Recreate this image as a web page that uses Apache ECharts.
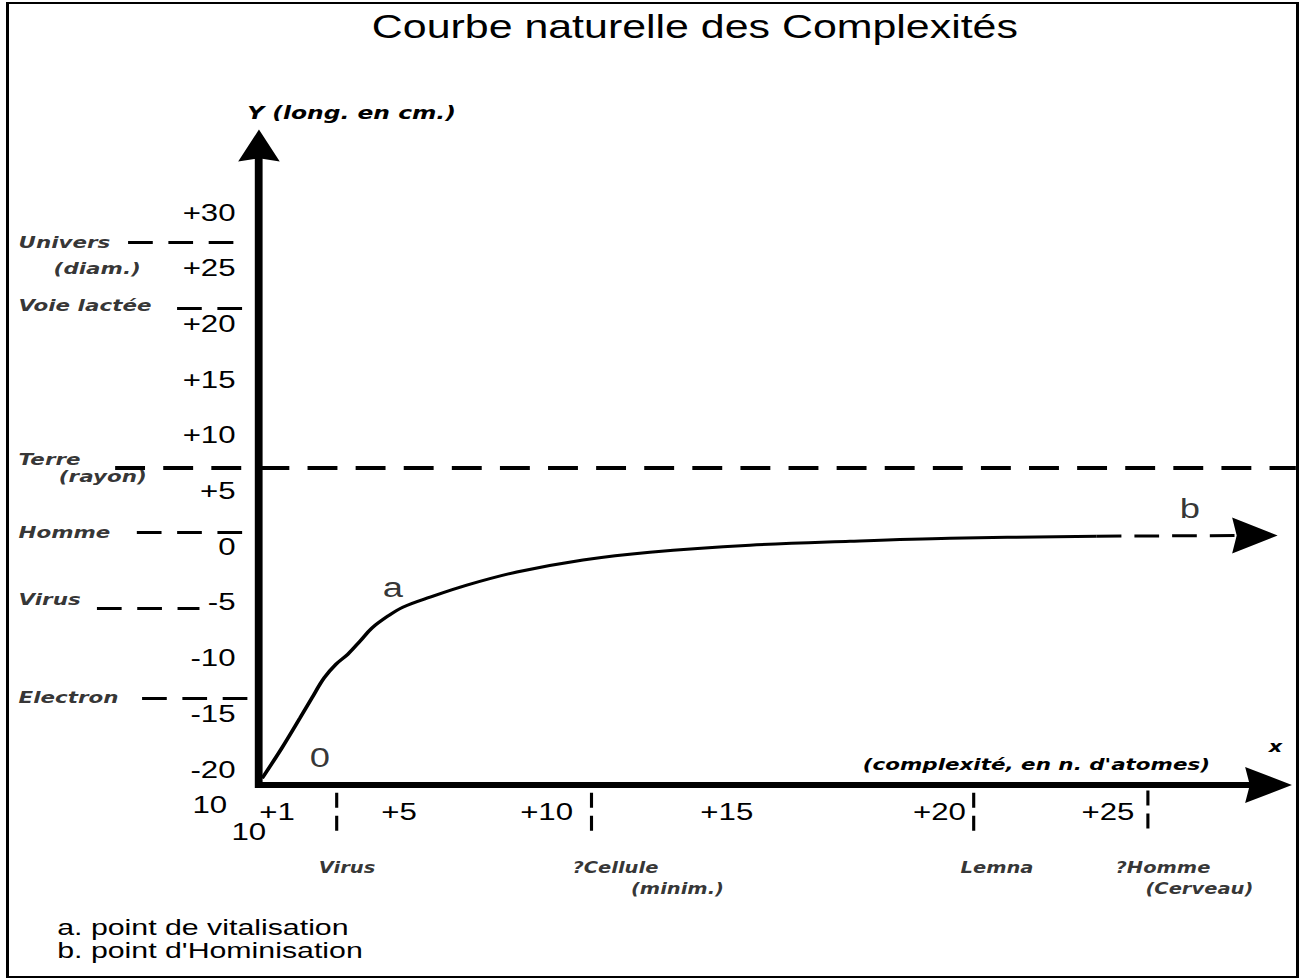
<!DOCTYPE html>
<html>
<head>
<meta charset="utf-8">
<script src="https://cdn.jsdelivr.net/npm/echarts@6/dist/echarts.min.js"></script>
<style>
html, body { margin: 0; padding: 0; background: #fff; overflow: hidden; }
#frame { position: absolute; left: 6px; top: 2px; width: 1287px; height: 972px; border-style: solid; border-color: #000; border-width: 2px 3px; z-index: 10; pointer-events: none; }
#chart { position: absolute; left: 0; top: 0; width: 1005px; height: 980px; transform: scaleX(1.3); transform-origin: 0 0; }
</style>
</head>
<body>
<div id="chart"></div>
<div id="frame"></div>
<script>
// ---------------- data ----------------
const titleText = 'Courbe naturelle des Complexités';
const yAxisName = 'Y (long. en cm.)';
const xAxisName = "(complexité, en n. d'atomes)";
const xAxisLetter = 'x';
const yTicks = [-20, -15, -10, -5, 0, 5, 10, 15, 20, 25, 30];
const xTicks = [1, 5, 10, 15, 20, 25];

// lengths (log10 of cm) marked on the Y axis
const lengthNames  = ['Univers', 'Voie lactée', 'Terre', 'Homme', 'Virus', 'Electron'];
const lengthNotes  = ['(diam.)', '', '(rayon)', '', '', ''];
const lengthValues = [27.3, 21.4, 7.1, 1.3, -5.5, -13.6];
const lengthFrom   = [-2.74, -1.34, -3.11, -2.49, -3.63, -2.34];
const lengthTo     = [0.37, 0.6, 30.63, 0.66, -0.7, 0.74];

// complexities (log10 of number of atoms) marked on the X axis
const complexNames  = ['Virus', '?Cellule', 'Lemna', '?Homme'];
const complexNotes  = ['', '(minim.)', '', '(Cerveau)'];
const complexValues = [3.23, 10.49, 21.4, 26.4];
const complexTop    = [-22.1, -22.1, -22.1, -21.9];
const complexBottom = [-26.2, -26.2, -26.2, -25.7];

// the curve of complexity
const curveX = [1.09, 1.65, 2.17, 2.51, 2.86, 3.2, 3.54, 3.89, 4.23, 4.69, 5.11, 5.89, 6.94, 8.37, 10.26, 12.17, 15.03, 17.89, 20.74, 24.94];
const curveY = [-20.8, -18.1, -15.4, -13.6, -11.8, -10.56, -9.66, -8.48, -7.31, -6.23, -5.44, -4.54, -3.46, -2.28, -1.2, -0.5, 0.13, 0.48, 0.75, 0.93];
const tailX = [24.94, 29.46];
const tailY = [0.93, 1.0];

// named points on the curve
const pointNames = ['0', 'a', 'b'];
const pointX = [2.74, 4.83, 27.6];
const pointY = [-18.9, -3.64, 3.45];

const footnotes = ['a. point de vitalisation', "b. point d'Hominisation"];
const baseLabels = ['10', '10'];

// ---------------- layout / style ----------------
const BLACK = '#000';
const SANS = 'Liberation Sans, Arial, sans-serif';
const GOTH = 'DejaVu Sans, sans-serif';
const ARROW = 'path://M50,0L100,100L50,90L0,100Z';
const NAME_X = -5.89;     // left column of the length names
const XNAME_Y = -28.8;    // row of the complexity names
const xTickNudge = [14, 0, -21, -17, 12, 7];   // hand-lettered tick label shifts (px)

const chart = echarts.init(document.getElementById('chart'), null, { renderer: 'svg' });

const series = [];

// main curve
series.push({
  type: 'line', data: curveX.map((x, i) => [x, curveY[i]]), smooth: 0.35,
  symbol: 'none', clip: false, silent: true,
  lineStyle: { color: BLACK, width: 3 }, z: 5
});
// dashed continuation with arrow
series.push({
  type: 'line', clip: false, silent: true, showSymbol: true,
  data: [
    { value: [tailX[0], tailY[0]], symbol: 'none' },
    { value: [tailX[1], tailY[1]], symbol: ARROW, symbolSize: [36, 35], symbolRotate: -90 }
  ],
  itemStyle: { color: BLACK, borderWidth: 0 },
  lineStyle: { color: BLACK, width: 3, type: [19, 10] }, z: 5
});

// horizontal dashed reference lines
lengthNames.forEach((n, i) => {
  const long = lengthTo[i] > 5;
  series.push({
    type: 'lines', coordinateSystem: 'cartesian2d', clip: false, silent: true, symbol: 'none',
    data: [{ coords: [[lengthFrom[i], lengthValues[i]], [lengthTo[i], lengthValues[i]]] }],
    lineStyle: { color: BLACK, opacity: 1, curveness: 0, width: long ? 4 : 3, type: long ? [23, 14] : [19, 12] }
  });
});

// vertical dashed reference ticks below the X axis
complexNames.forEach((n, i) => {
  series.push({
    type: 'lines', coordinateSystem: 'cartesian2d', clip: false, silent: true, symbol: 'none',
    data: [{ coords: [[complexValues[i], complexTop[i]], [complexValues[i], complexBottom[i]]] }],
    lineStyle: { color: BLACK, opacity: 1, curveness: 0, width: 2.4, type: [15, 8] }
  });
});

const nameStyle = (size) => ({ fontFamily: GOTH, fontWeight: 'bold', fontStyle: 'italic', fontSize: size, color: BLACK });

// length names
const lengthDy = [13, -3, 0, 0, -8, -1];
const lengthLH = [26, 18, 17, 18, 18, 18];
const lengthIndent = [27, 0, 31, 0, 0, 0];
series.push({
  type: 'scatter', clip: false, silent: true, symbolSize: 1,
  itemStyle: { color: 'rgba(0,0,0,0)' },
  data: lengthNames.map((n, i) => ({
    value: [NAME_X, lengthValues[i]],
    label: {
      show: true, position: 'right', distance: 0, offset: [0, lengthDy[i]],
      formatter: lengthNotes[i] ? '{n|' + n + '}\n{d|' + lengthNotes[i] + '}' : '{n|' + n + '}',
      rich: {
        n: Object.assign(nameStyle(16.5), { lineHeight: lengthLH[i] }),
        d: Object.assign(nameStyle(16.5), { lineHeight: lengthLH[i], padding: [0, 0, 0, lengthIndent[i]] })
      }
    }
  }))
});

// complexity names
const complexLeft = [2.69, 9.94, 21.03, 25.46];
const complexIndent = [0, 45, 0, 23];
series.push({
  type: 'scatter', clip: false, silent: true, symbolSize: 1,
  itemStyle: { color: 'rgba(0,0,0,0)' },
  data: complexNames.map((n, i) => ({
    value: [complexLeft[i], XNAME_Y],
    label: {
      show: true, position: 'right', distance: 0, offset: [0, complexNotes[i] ? 10.5 : 0],
      formatter: complexNotes[i] ? '{n|' + n + '}\n{d|' + complexNotes[i] + '}' : '{n|' + n + '}',
      rich: {
        n: Object.assign(nameStyle(15), { lineHeight: 21 }),
        d: Object.assign(nameStyle(15), { lineHeight: 21, padding: [0, 0, 0, complexIndent[i]] })
      }
    }
  }))
});

// point letters
series.push({
  type: 'scatter', clip: false, silent: true, symbolSize: 1,
  itemStyle: { color: 'rgba(0,0,0,0)' },
  data: pointNames.map((n, i) => ({ value: [pointX[i], pointY[i]], name: n })),
  label: {
    show: true, position: 'inside', formatter: p => p.name,
    fontFamily: SANS, fontSize: 28, color: BLACK
  }
});

// x tick label rich styles (small hand-placement shifts)
const xRich = {};
xTicks.forEach((t, i) => {
  const s = xTickNudge[i];
  xRich['t' + i] = { fontFamily: SANS, fontSize: 24, color: BLACK,
    padding: [0, s < 0 ? -2 * s : 0, 0, s > 0 ? 2 * s : 0] };
});

const option = {
  animation: false,
  backgroundColor: 'transparent',
  title: {
    text: titleText, left: 281, top: 5,
    textStyle: { fontFamily: SANS, fontSize: 33, fontWeight: 'normal', color: BLACK }
  },
  grid: { left: 199.2, right: 29.2, top: 145.5, bottom: 195, containLabel: false, outerBoundsMode: 'none' },
  xAxis: {
    type: 'value', min: 1, max: 29.85,
    name: xAxisName, nameLocation: 'end', nameGap: -45,
    nameTextStyle: Object.assign(nameStyle(16.5), { align: 'right', verticalAlign: 'bottom', padding: [0, 0, 12, 0] }),
    axisLine: { show: true, onZero: false, symbol: ['none', ARROW], symbolSize: [40, 36],
      lineStyle: { color: BLACK, width: 6, cap: 'square' } },
    axisTick: { show: false }, splitLine: { show: false },
    axisLabel: {
      customValues: xTicks, margin: 15, color: BLACK, fontFamily: SANS, fontSize: 24,
      formatter: v => '{t' + xTicks.indexOf(v) + '|+' + v + '}',
      rich: xRich
    }
  },
  yAxis: {
    type: 'value', min: -21.4, max: 36.0,
    name: yAxisName, nameLocation: 'end', nameGap: 23.5,
    nameTextStyle: Object.assign(nameStyle(18), { align: 'left', verticalAlign: 'bottom', padding: [0, 0, 0, -9] }),
    axisLine: { show: true, onZero: false, symbol: ['none', ARROW], symbolSize: [32, 35],
      lineStyle: { color: BLACK, width: 6, cap: 'square' } },
    axisTick: { show: false }, splitLine: { show: false },
    axisLabel: {
      customValues: yTicks, margin: 18, color: BLACK, fontFamily: SANS, fontSize: 24,
      formatter: v => (v > 0 ? '+' : '') + v
    }
  },
  graphic: [
    { type: 'text', left: 976, top: 738, style: { text: xAxisLetter, font: 'italic bold 16px DejaVu Sans', fill: BLACK } },
    { type: 'text', left: 148, top: 793, style: { text: baseLabels[0], font: '24px Liberation Sans', fill: BLACK } },
    { type: 'text', left: 178, top: 820, style: { text: baseLabels[1], font: '24px Liberation Sans', fill: BLACK } },
    { type: 'text', left: 44, top: 917, scaleX: 1.06, style: { text: footnotes[0], font: '22px Liberation Sans', fill: BLACK } },
    { type: 'text', left: 44, top: 940, scaleX: 1.06, style: { text: footnotes[1], font: '22px Liberation Sans', fill: BLACK } }
  ],
  series: series
};
chart.setOption(option);
</script>
</body>
</html>
